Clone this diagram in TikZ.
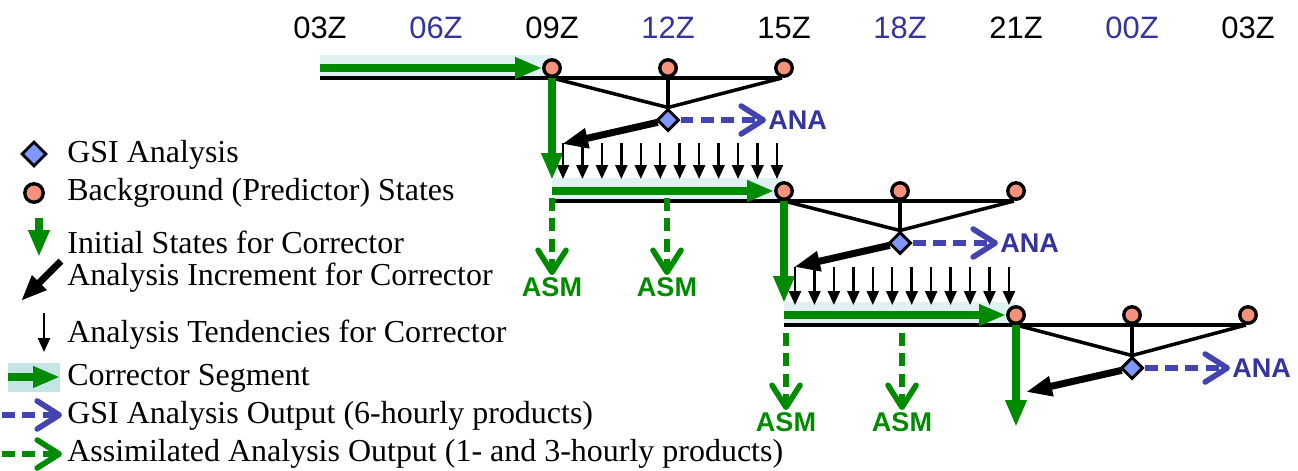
\documentclass[tikz,border=0pt]{standalone}
\usepackage{fontspec}
\setmainfont{Liberation Serif}
\setsansfont{Liberation Sans}
\usetikzlibrary{arrows.meta,shapes.geometric}

\definecolor{timeBlue}{RGB}{52,52,158}
\definecolor{anaBlue}{RGB}{68,68,176}
\definecolor{corrGreen}{RGB}{0,138,0}
\definecolor{bandCyan}{RGB}{224,241,241}
\definecolor{boxCyan}{RGB}{196,228,230}
\definecolor{stateFill}{RGB}{246,146,124}
\definecolor{anaFill}{RGB}{128,151,255}

\begin{document}
\begin{tikzpicture}
[x=0.02cm,y=-0.02cm,
  stateDecorate/.style={shape=circle,inner sep=0pt,minimum size=0.33cm,draw,fill=stateFill,line width=1.9pt},%
  gsiDecorate/.style={shape=diamond,inner sep=0pt,minimum size=0.44cm,draw,fill=anaFill,line width=1.7pt},%
  lineDecorate/.style={-,line width=2pt},%
  corrDecorate/.style={-{Triangle[length=0.54cm,width=0.4cm]},corrGreen,line width=5pt},%
  incrDecorate/.style={-{Triangle[length=0.52cm,width=0.38cm]},line width=4pt},%
  tendDecorate/.style={-{Triangle[length=0.28cm,width=0.24cm]},line width=1.4pt},%
  outDecorate/.style={-{Straight Barb[round,length=0.44cm,width=0.56cm]},line width=3.2pt,dash pattern=on 0.26cm off 0.15cm},%
  timeText/.style={inner sep=0pt,font=\sffamily\fontsize{17.6}{20}\selectfont},%
  outText/.style={inner sep=0.04cm,font=\sffamily\bfseries\fontsize{15.4}{18}\selectfont},%
  legendText/.style={anchor=west,inner sep=0pt,font=\fontsize{18.2}{22}\selectfont}]
\useasboundingbox (0,0) rectangle (1298,470);

%% time axis
\foreach \nodename/\x/\col/\lab in {
  tA/320/black/03Z, tB/436/timeBlue/06Z, tC/552/black/09Z, tD/668/timeBlue/12Z,
  tE/784/black/15Z, tF/900/timeBlue/18Z, tG/1016/black/21Z, tH/1132/timeBlue/00Z,
  tI/1248/black/03Z}
{
  \node (\nodename) at (\x,28) [timeText,text=\col] {\lab};
}

%% one predictor/corrector cycle per row
\foreach \k/\xo/\yr/\yd in {1/552/68/120, 2/784/191/243, 3/1016/315/368}
{
  \fill[bandCyan] (\xo-232,\yr-13) rectangle (\xo,\yr+8);
  \coordinate (ln\k L) at (\xo-232,\yr+10);
  \coordinate (ln\k M) at (\xo,\yr+10);
  \coordinate (ln\k R) at (\xo+230,\yr+10);
  \coordinate (cs\k) at (\xo-232,\yr);
  \coordinate (gi\k) at (\xo,\yr+112);
  \coordinate (inc\k) at (\xo+10,\yd+24);
  \draw[lineDecorate] (ln\k L) -- (ln\k R);
  \node (gsi\k) at (\xo+116,\yd) [gsiDecorate] {};
  \draw[lineDecorate] (ln\k M) -- (gsi\k.north);
  \draw[lineDecorate] (ln\k R) -- (gsi\k.north);
  \node (bg\k a) at (\xo,\yr) [stateDecorate] {};
  \node (bg\k b) at (\xo+116,\yr) [stateDecorate] {};
  \node (bg\k c) at (\xo+232,\yr) [stateDecorate] {};
  \draw[lineDecorate] (bg\k b) -- (gsi\k);
  \draw[corrDecorate] (cs\k) -- (bg\k a);
  \draw[corrDecorate] (bg\k a.south) -- (gi\k);
  \draw[incrDecorate] (gsi\k) -- (inc\k);
  \node (ana\k) at (\xo+214,\yd) [outText,anchor=west,text=timeBlue] {ANA};
  \draw[outDecorate,anaBlue] (gsi\k) -- (ana\k);
}

%% analysis tendencies
\foreach \k/\xo/\ys/\ye in {1/552/143/179, 2/784/267/305}
{
  \foreach \i in {0,...,11}
  {
    \coordinate (td\k-\i) at (\xo+11+19.45*\i,\ys);
    \coordinate (te\k-\i) at (\xo+11+19.45*\i,\ye);
    \draw[tendDecorate] (td\k-\i) -- (te\k-\i);
  }
}

%% assimilated output
\foreach \nodename/\x/\ys/\y in {
  asmA/552/198/287, asmB/667/198/287, asmC/786/333/422, asmD/902/333/422}
{
  \coordinate (\nodename Top) at (\x,\ys);
  \node (\nodename) at (\x,\y) [outText,text=corrGreen] {ASM};
  \draw[outDecorate,corrGreen] (\nodename Top) -- (\nodename);
}

%% legend
\node (lgGsi) at (34,154) [gsiDecorate,minimum size=0.5cm] {};
\node (lgState) at (34,193) [stateDecorate,minimum size=0.37cm] {};
\coordinate (lgInitA) at (39,218);
\coordinate (lgInitB) at (39,257);
\coordinate (lgIncA) at (61,261);
\coordinate (lgIncB) at (21,301);
\coordinate (lgTendA) at (44,313);
\coordinate (lgTendB) at (44,352);
\fill[boxCyan] (8,363) rectangle (60,392);
\coordinate (lgCorrA) at (8,377);
\coordinate (lgCorrB) at (60,377);
\coordinate (lgAnaA) at (2,415);
\coordinate (lgAnaB) at (62,415);
\coordinate (lgAsmA) at (2,454);
\coordinate (lgAsmB) at (62,454);
\draw[corrDecorate] (lgInitA) -- (lgInitB);
\draw[incrDecorate] (lgIncA) -- (lgIncB);
\draw[tendDecorate] (lgTendA) -- (lgTendB);
\draw[corrDecorate] (lgCorrA) -- (lgCorrB);
\draw[outDecorate,anaBlue] (lgAnaA) -- (lgAnaB);
\draw[outDecorate,corrGreen] (lgAsmA) -- (lgAsmB);
\foreach \nodename/\y/\lab in {
  lgT1/155/{GSI Analysis},
  lgT2/193/{Background (Predictor) States},
  lgT3/242/{Initial States for Corrector},
  lgT4/278/{Analysis Increment for Corrector},
  lgT5/335/{Analysis Tendencies for Corrector},
  lgT6/378/{Corrector Segment},
  lgT7/416/{GSI Analysis Output (6-hourly products)},
  lgT8/454/{Assimilated Analysis Output (1- and 3-hourly products)}}
{
  \node (\nodename) at (67,\y) [legendText] {\lab};
}
\end{tikzpicture}
\end{document}
